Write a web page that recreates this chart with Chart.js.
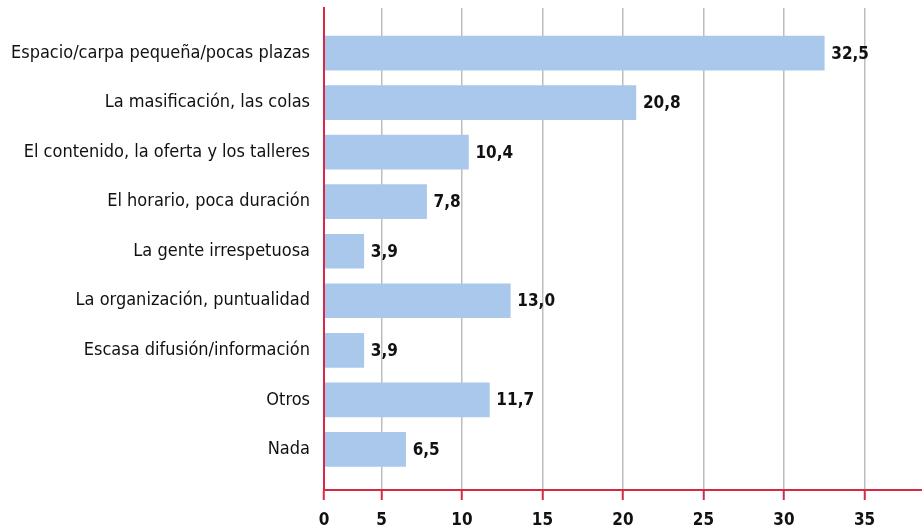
<!DOCTYPE html>
<html>
<head>
<meta charset="utf-8">
<script src="https://cdn.jsdelivr.net/npm/chart.js@4/dist/chart.umd.min.js"></script>
<style>
  body { margin: 0; background: #fff; }
  #wrap { width: 922px; height: 529px; position: relative; }
</style>
</head>
<body>
<div id="wrap"><canvas id="chart"></canvas></div>
<script>
const categories = [
  'Espacio/carpa pequeña/pocas plazas',
  'La masificación, las colas',
  'El contenido, la oferta y los talleres',
  'El horario, poca duración',
  'La gente irrespetuosa',
  'La organización, puntualidad',
  'Escasa difusión/información',
  'Otros',
  'Nada'
]
const values = [32.5, 20.8, 10.4, 7.8, 3.9, 13.0, 3.9, 11.7, 6.5]
const xTicks = [0, 5, 10, 15, 20, 25, 30, 35]

const RED = '#d42a45'
const FONT = "'DejaVu Sans Condensed', 'Liberation Sans Narrow', Arial, sans-serif"
// the printed axis starts a little to the right of the gridlines' zero
const X_START = 1.43
const X_END = 38.57

const valueLabels = {
  id: 'valueLabels',
  afterDatasetsDraw(chart) {
    const ctx = chart.ctx
    const meta = chart.getDatasetMeta(0)
    ctx.save()
    ctx.font = 'bold 17px ' + FONT
    ctx.fillStyle = '#111'
    ctx.textBaseline = 'middle'
    ctx.textAlign = 'left'
    meta.data.forEach((bar, i) => {
      ctx.fillText(values[i].toFixed(1).replace('.', ','), bar.x + 7, bar.y + 1)
    })
    ctx.restore()
  }
}

const chartData = {
  datasets: [{
    data: values.map((v, i) => ({ x: v, y: i })),
    backgroundColor: '#a9c8eb',
    borderWidth: 0,
    barThickness: 34
  }]
}

const config = {
  type: 'bar',
  data: chartData,
  plugins: [valueLabels],
  options: {
    indexAxis: 'y',
    responsive: true,
    maintainAspectRatio: false,
    animation: false,
    layout: { padding: { top: 8, right: 0, left: 0, bottom: 0 } },
    plugins: { legend: { display: false }, tooltip: { enabled: false } },
    scales: {
      x: {
        type: 'linear',
        min: X_START,
        max: X_END,
        afterBuildTicks: axis => {
          axis.ticks = xTicks.map(v => ({ value: v === 0 ? X_START : v }))
        },
        afterFit: axis => { axis.height = 39 },
        ticks: {
          callback: (value, index) => xTicks[index],
          font: { family: FONT, size: 17, weight: 'bold' },
          color: '#111',
          padding: 10,
          maxRotation: 0
        },
        grid: { color: '#bdbdbd', lineWidth: 1.5, tickColor: RED, tickLength: 10, tickWidth: 2 },
        border: { color: RED, width: 2, z: 1 }
      },
      y: {
        type: 'linear',
        reverse: true,
        offset: false,
        min: -0.91,
        max: 8.82,
        afterBuildTicks: axis => {
          axis.ticks = categories.map((c, i) => ({ value: i }))
        },
        afterFit: axis => {
          axis.width = 324
          axis.paddingTop = 0
          axis.paddingBottom = 0
        },
        ticks: {
          callback: value => categories[value],
          font: { family: FONT, size: 18 },
          color: '#111',
          padding: 14
        },
        grid: { display: false, drawTicks: false, offset: false },
        border: { color: RED, width: 2, z: 1 }
      }
    }
  }
}

const barChart = new Chart(document.getElementById('chart'), config)
</script>
</body>
</html>
